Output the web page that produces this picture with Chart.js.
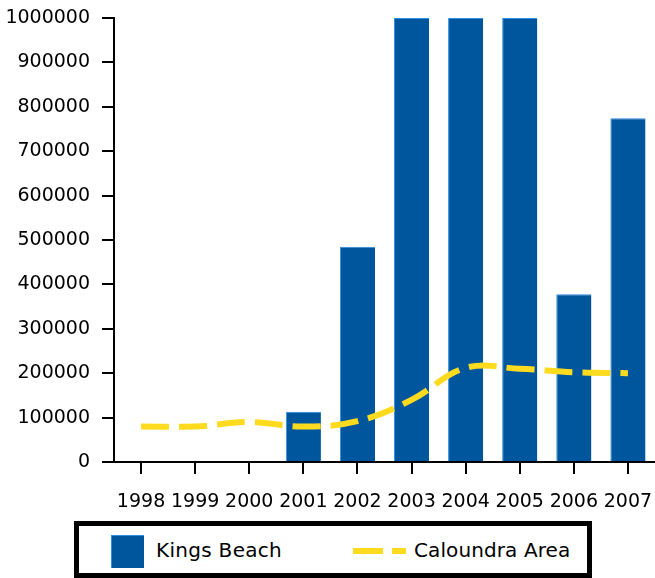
<!DOCTYPE html>
<html>
<head>
<meta charset="utf-8">
<script src="https://cdn.jsdelivr.net/npm/chart.js@4/dist/chart.umd.min.js"></script>
<style>
  html, body { margin: 0; padding: 0; background: #fff; }
  #wrap { position: relative; width: 655px; height: 578px; overflow: hidden; font-family: "DejaVu Sans", sans-serif; }
  #c { position: absolute; left: 0; top: 0; }
  #legend { position: absolute; left: 74px; top: 521px; width: 518px; height: 57px; box-sizing: border-box; border: 5px solid #000; background: #fff; }
  .sw { position: absolute; }
  .lbl { position: absolute; font-size: 20px; color: #000; white-space: nowrap; line-height: 22px; }
</style>
</head>
<body>
<div id="wrap">
  <canvas id="c" width="655" height="512"></canvas>
  <div id="legend"></div>
</div>
<script>
const years = ["1998","1999","2000","2001","2002","2003","2004","2005","2006","2007"];
const kingsBeach = [null, null, null, 113000, 485000, 1000000, 1000000, 1000000, 378000, 774000];
const caloundraArea = [80000, 80000, 90000, 80000, 92000, 140000, 212000, 210000, 202000, 200000];
const seriesLabels = ["Kings Beach", "Caloundra Area"];
const yTicks = [0, 100000, 200000, 300000, 400000, 500000, 600000, 700000, 800000, 900000, 1000000];

const barColor = "#00569c";
const lineColor = "#ffdb1f";

const chart = new Chart(document.getElementById("c"), {
  type: "bar",
  data: {
    labels: years,
    datasets: [
      {
        type: "line",
        label: seriesLabels[1],
        data: caloundraArea,
        borderColor: lineColor,
        borderWidth: 6,
        borderDash: [28, 10],
        borderCapStyle: "butt",
        pointRadius: 0,
        tension: 0.4,
        fill: false,
        order: 0
      },
      {
        type: "bar",
        label: seriesLabels[0],
        data: kingsBeach,
        backgroundColor: barColor,
        borderColor: "#2a8fe6",
        borderWidth: { left: 1, top: 1, right: 0, bottom: 0 },
        borderSkipped: false,
        barPercentage: 0.65,
        categoryPercentage: 1,
        order: 1
      }
    ]
  },
  options: {
    responsive: false,
    devicePixelRatio: 1,
    animation: false,
    layout: { padding: { left: 5, right: 0, top: 18, bottom: 2 } },
    plugins: { legend: { display: false }, tooltip: { enabled: false } },
    scales: {
      x: {
        offset: true,
        afterFit: (axis) => { axis.height = 48; axis.paddingLeft = 0; axis.paddingRight = 0; },
        grid: { offset: false, drawOnChartArea: false, drawTicks: true, tickLength: 12, color: "#000", lineWidth: 2 },
        border: { display: true, color: "#000", width: 2 },
        ticks: { color: "#000", font: { family: "DejaVu Sans", size: 19 }, padding: 17, maxRotation: 0, autoSkip: false }
      },
      y: {
        min: yTicks[0],
        max: yTicks[yTicks.length - 1],
        afterFit: (axis) => { axis.width = 109; axis.paddingTop = 0; axis.paddingBottom = 0; },
        afterBuildTicks: (axis) => { axis.ticks = yTicks.map(v => ({ value: v })); },
        grid: { drawOnChartArea: false, drawTicks: true, tickLength: 12, color: "#000", lineWidth: 2 },
        border: { display: true, color: "#000", width: 2 },
        ticks: { color: "#000", font: { family: "DejaVu Sans", size: 19 }, padding: 12, callback: (v) => String(v) }
      }
    }
  }
});

// HTML legend built from the dataset labels
const lg = document.getElementById("legend");
const sq = document.createElement("div");
sq.className = "sw";
sq.style.cssText = "left:32px;top:9px;width:33px;height:33px;background:" + barColor + ";box-sizing:border-box;border-left:1px solid #2a8fe6;border-top:1px solid #2a8fe6;";
lg.appendChild(sq);
const t1 = document.createElement("div");
t1.className = "lbl";
t1.style.cssText = "left:77px;top:13px;letter-spacing:0.3px;";
t1.textContent = seriesLabels[0];
lg.appendChild(t1);
const d1 = document.createElement("div");
d1.className = "sw";
d1.style.cssText = "left:274px;top:22px;width:30px;height:6px;background:" + lineColor + ";";
lg.appendChild(d1);
const d2 = document.createElement("div");
d2.className = "sw";
d2.style.cssText = "left:313px;top:22px;width:14px;height:6px;background:" + lineColor + ";";
lg.appendChild(d2);
const t2 = document.createElement("div");
t2.className = "lbl";
t2.style.cssText = "left:335px;top:13px;letter-spacing:0.1px;";
t2.textContent = seriesLabels[1];
lg.appendChild(t2);
</script>
</body>
</html>
